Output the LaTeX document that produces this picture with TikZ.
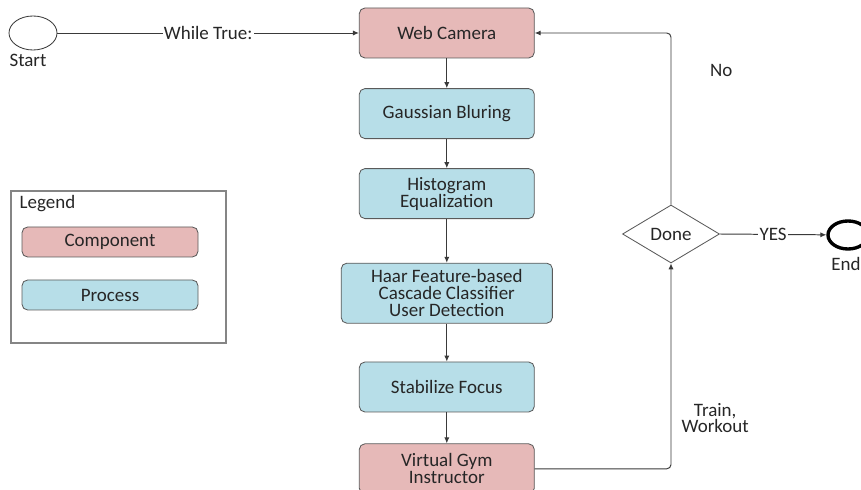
\documentclass[tikz,border=0pt]{standalone}
\usepackage{fontspec}
\setmainfont{Carlito}
\usetikzlibrary{arrows.meta,positioning,shapes.geometric}
\definecolor{comppink}{HTML}{E6B9B8}
\definecolor{procblue}{HTML}{B7DEE8}
\definecolor{edgegray}{HTML}{5A5A5A}
\definecolor{linegray}{HTML}{3A3A3A}
\definecolor{textgray}{HTML}{262626}
\definecolor{framegray}{HTML}{858585}

\begin{document}
\begin{tikzpicture}[>=Latex,
  comp/.style={rounded corners=4pt,draw=edgegray,fill=comppink,line width=0.6pt,
    minimum width=4.375cm,minimum height=1.25cm,align=center,inner sep=2pt,
    text=textgray,font=\fontsize{13.5}{12}\selectfont},
  proc/.style={comp,fill=procblue},
  term/.style={ellipse,draw=linegray,fill=white,line width=0.6pt,
    minimum width=1.2cm,minimum height=0.85cm,inner sep=0pt},
  decide/.style={diamond,draw=edgegray,fill=white,line width=0.6pt,
    minimum width=2.425cm,minimum height=1.45cm,inner sep=0pt,
    text=textgray,font=\fontsize{13.5}{12}\selectfont},
  lbl/.style={text=textgray,font=\fontsize{13.5}{12}\selectfont,align=center,inner sep=1pt},
  arr/.style={-{Latex[length=1.5mm,width=1.3mm]},line width=0.7pt,linegray}]

\useasboundingbox (0,0) rectangle (21.525,-12.25);

% start / end markers
\node[term] (start) at (0.825,-0.825) {};
\node[lbl] (startlbl) at (0.7,-1.5) {Start};
\node[term,line width=2.4pt,draw=black,minimum width=1.0cm,minimum height=0.7cm] (end) at (21.2,-5.875) {};
\node[lbl] (endlbl) at (21.15,-6.6) {End};

% main pipeline
\node[comp] (cam) at (11.17,-0.825) {Web Camera};
\node[proc] (gauss) at (11.17,-2.84) {Gaussian Bluring};
\node[proc] (hist) at (11.17,-4.84) {Histogram\\Equalization};
\node[proc,minimum width=5.28cm,minimum height=1.5cm] (haar) at (11.17,-7.33)
  {Haar Feature-based\\Cascade Classifier\\User Detection};
\node[proc] (focus) at (11.17,-9.675) {Stabilize Focus};
\node[comp] (gym) at (11.17,-11.72) {Virtual Gym\\Instructor};
\node[decide] (done) at (16.775,-5.85) {Done};

\draw[arr] (start) -- node[lbl,fill=white] (while) {While True:} (cam);
\draw[arr] (cam) -- (gauss);
\draw[arr] (gauss) -- (hist);
\draw[arr] (hist) -- (haar);
\draw[arr] (haar) -- (focus);
\draw[arr] (focus) -- (gym);
\draw[arr,rounded corners=3pt] (gym.east) -| (done.south);
\draw[arr,rounded corners=3pt] (done.north) |- (cam.east);
\draw[arr] (done.east) -- node[lbl,fill=white] (yes) {YES} (end);

\node[lbl] (no) at (18.03,-1.75) {No};
\node[lbl] (train) at (17.88,-10.45) {Train,\\Workout};

% legend
\node[draw=framegray,line width=1.1pt,minimum width=5.375cm,minimum height=3.8cm,inner sep=0pt]
  (legend) at (2.9625,-6.675) {};
\node[lbl,anchor=west] (legendtitle) at (0.45,-5.1) {Legend};
\node[comp,minimum width=4.4cm,minimum height=0.75cm] (keycomp) at (2.75,-6.05) {Component};
\node[proc,minimum width=4.4cm,minimum height=0.75cm] (keyproc) at (2.75,-7.375) {Process};
\end{tikzpicture}
\end{document}
